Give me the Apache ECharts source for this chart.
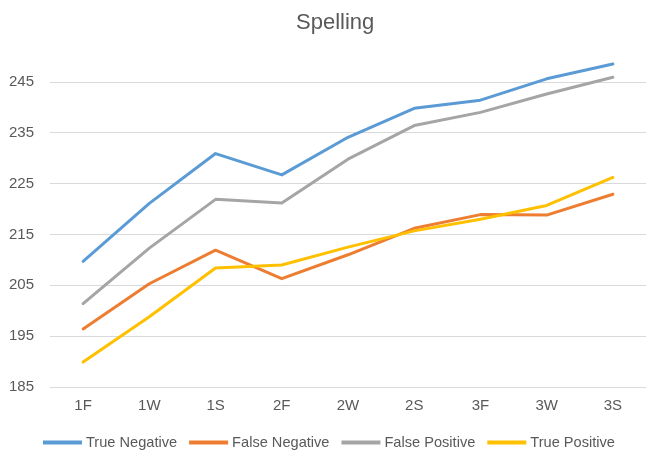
<!DOCTYPE html>
<html>
<head>
<meta charset="utf-8">
<script src="https://cdn.jsdelivr.net/npm/echarts@6/dist/echarts.min.js"></script>
<style>
  html, body { margin: 0; padding: 0; background: #fff; }
  #chart { width: 646px; height: 454px; }
</style>
</head>
<body>
<div id="chart"></div>
<script>
// data
var categories = ['1F', '1W', '1S', '2F', '2W', '2S', '3F', '3W', '3S']
var trueNegative = [209.7, 221.1, 230.9, 226.7, 234.1, 239.8, 241.4, 245.6, 248.5]
var falseNegative = [196.4, 205.3, 211.9, 206.3, 211.0, 216.2, 218.9, 218.8, 222.9]
var falsePositive = [201.4, 212.3, 221.9, 221.2, 229.8, 236.4, 239.0, 242.6, 245.9]
var truePositive = [189.9, 198.8, 208.4, 209.0, 212.5, 215.7, 218.0, 220.7, 226.2]
var legendNames = ['True Negative', 'False Negative', 'False Positive', 'True Positive']
var colors = ['#5B9BD5', '#ED7D31', '#A5A5A5', '#FFC000']

var font = 'Liberation Sans'
var textColor = '#595959'

function lineSeries(name, data, color) {
  return {
    name: name,
    type: 'line',
    data: data,
    symbol: 'none',
    smooth: false,
    lineStyle: { color: color, width: 3, cap: 'round', join: 'round' },
    itemStyle: { color: color },
    animation: false
  }
}

var chart = echarts.init(document.getElementById('chart'))
chart.setOption({
  backgroundColor: '#fff',
  title: {
    text: 'Spelling',
    left: 291,
    top: 7,
    textStyle: { fontFamily: font, fontSize: 22, fontWeight: 'normal', color: textColor }
  },
  grid: {
    left: 50,
    right: -4,
    top: 31,
    bottom: 67
  },
  legend: {
    data: legendNames,
    left: 38,
    top: 430,
    icon: 'rect',
    itemWidth: 39,
    itemHeight: 4,
    itemGap: 12,
    textStyle: { fontFamily: font, fontSize: 14.6, color: textColor, padding: [0, 0, 0, -1] }
  },
  xAxis: {
    type: 'category',
    data: categories,
    boundaryGap: true,
    axisLine: { show: false },
    axisTick: { show: false },
    axisLabel: { fontFamily: font, fontSize: 15, color: textColor, margin: 11 }
  },
  yAxis: {
    type: 'value',
    min: 185,
    max: 255,
    interval: 10,
    axisLine: { show: false },
    axisTick: { show: false },
    axisLabel: { fontFamily: font, fontSize: 15, color: textColor, margin: 16, showMaxLabel: false },
    splitLine: { lineStyle: { color: '#D9D9D9', width: 1 }, showMaxLine: false }
  },
  series: [
    lineSeries(legendNames[0], trueNegative, colors[0]),
    lineSeries(legendNames[1], falseNegative, colors[1]),
    lineSeries(legendNames[2], falsePositive, colors[2]),
    lineSeries(legendNames[3], truePositive, colors[3])
  ]
})
</script>
</body>
</html>
